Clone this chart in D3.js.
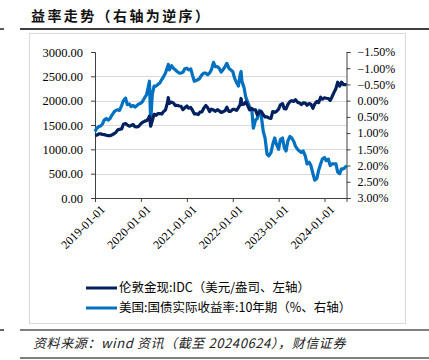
<!DOCTYPE html>
<html>
<head>
<meta charset="utf-8">
<script src="https://cdn.jsdelivr.net/npm/d3@7"></script>
<style>
body { margin: 0; background: #fff; }
svg { display: block; }
</style>
</head>
<body>
<svg id="svg"></svg>
<script>
// data, roughly semi-monthly
var dates = [
 "2019-01-01","2019-01-15","2019-02-01","2019-02-15","2019-03-01","2019-03-15","2019-04-01","2019-04-15",
 "2019-05-01","2019-05-15","2019-06-01","2019-06-15","2019-07-01","2019-07-15","2019-08-01","2019-08-15",
 "2019-09-01","2019-09-15","2019-10-01","2019-10-15","2019-11-01","2019-11-15","2019-12-01","2019-12-15",
 "2020-01-01","2020-01-15","2020-02-01","2020-02-15","2020-03-01","2020-03-09","2020-03-19","2020-04-01",
 "2020-04-15","2020-05-01","2020-05-15","2020-06-01","2020-06-15","2020-07-01","2020-07-15","2020-08-01",
 "2020-08-06","2020-08-15","2020-09-01","2020-09-15","2020-10-01","2020-10-15","2020-11-01","2020-11-15",
 "2020-12-01","2020-12-15","2021-01-01","2021-01-15","2021-02-01","2021-02-15","2021-03-01","2021-03-15",
 "2021-04-01","2021-04-15","2021-05-01","2021-05-15","2021-06-01","2021-06-15","2021-07-01","2021-07-15",
 "2021-08-01","2021-08-15","2021-09-01","2021-09-15","2021-10-01","2021-10-15","2021-11-01","2021-11-15",
 "2021-12-01","2021-12-15","2022-01-01","2022-01-15","2022-02-01","2022-02-15","2022-03-01","2022-03-08",
 "2022-03-15","2022-04-01","2022-04-15","2022-05-01","2022-05-15","2022-06-01","2022-06-14","2022-07-01",
 "2022-07-15","2022-08-01","2022-08-15","2022-09-01","2022-09-15","2022-10-01","2022-10-15","2022-11-01",
 "2022-11-15","2022-12-01","2022-12-15","2023-01-01","2023-01-15","2023-02-01","2023-02-15","2023-03-01",
 "2023-03-15","2023-04-01","2023-04-15","2023-05-01","2023-05-15","2023-06-01","2023-06-15","2023-07-01",
 "2023-07-15","2023-08-01","2023-08-15","2023-09-01","2023-09-15","2023-10-01","2023-10-15","2023-11-01",
 "2023-11-15","2023-12-01","2023-12-15","2024-01-01","2024-01-15","2024-02-01","2024-02-15","2024-03-01",
 "2024-03-15","2024-04-01","2024-04-15","2024-05-01","2024-05-15","2024-06-01","2024-06-15","2024-06-24"
];

// 伦敦金现 (USD/oz), left axis
var gold = [
 1285,1290,1318,1320,1305,1302,1290,1280, 1280,1295,1320,1345,1400,1410,1420,1515,
 1530,1500,1475,1490,1510,1465,1460,1475, 1525,1555,1580,1590,1635,1680,1475,1590,
 1720,1700,1735,1735,1725,1780,1810,1975, 2065,1945,1970,1955,1900,1905,1890,1885,
 1815,1855,1890,1845,1860,1800,1730,1730, 1715,1765,1770,1845,1900,1860,1775,1825,
 1810,1780,1815,1790,1760,1770,1795,1865, 1780,1780,1820,1820,1800,1855,1920,2045,
 1920,1930,1975,1895,1810,1840,1815,1810, 1710,1765,1780,1710,1665,1670,1645,1635,
 1775,1760,1780,1825,1915,1940,1835,1830, 1920,1980,2000,1985,2020,1965,1955,1920,
 1955,1950,1905,1940,1925,1845,1930,1985, 1960,2070,2030,2060,2050,2045,2005,2080,
 2160,2250,2380,2300,2380,2330,2330,2320
];

// 美国 10Y real yield (%), right axis, reversed
var realYield = [
 0.95,0.85,0.80,0.78,0.72,0.60,0.55,0.60, 0.55,0.45,0.35,0.30,0.28,0.30,0.15,0.00,
 -0.08,0.12,0.10,0.18,0.15,0.20,0.15,0.10, 0.08,0.02,-0.10,-0.18,-0.45,-0.60,0.62,-0.20,
 -0.45,-0.45,-0.50,-0.55,-0.65,-0.75,-0.85,-1.05, -1.12,-0.95,-1.08,-1.00,-0.95,-0.90,-0.85,-0.85,
 -0.88,-0.98,-1.00,-0.95,-0.98,-0.78,-0.60,-0.62, -0.65,-0.70,-0.80,-0.85,-0.85,-0.80,-0.85,-0.95,
 -1.18,-1.05,-1.05,-1.00,-0.88,-0.95,-1.05,-1.15, -1.00,-0.95,-0.90,-0.70,-0.55,-0.45,-0.80,-0.90,
 -0.60,-0.40,-0.10,0.05,0.20,0.25,0.85,0.60, 0.55,0.30,0.45,0.95,1.15,1.65,1.70,1.60,
 1.35,1.15,1.35,1.50,1.20,1.15,1.45,1.55, 1.25,1.10,1.15,1.25,1.40,1.50,1.55,1.60,
 1.55,1.70,1.95,1.90,2.00,2.25,2.45,2.40, 2.15,1.95,1.80,1.75,1.85,1.80,2.00,1.95,
 1.95,1.95,2.20,2.25,2.10,2.10,2.05,2.00
];

var goldTicks = [0, 500, 1000, 1500, 2000, 2500, 3000];
var yieldTicks = [-1.5, -1.0, -0.5, 0, 0.5, 1.0, 1.5, 2.0, 2.5, 3.0];
var yearTicks = ["2019-01-01","2020-01-01","2021-01-01","2022-01-01","2023-01-01","2024-01-01"];

var legendNames = ["伦敦金现:IDC（美元/盎司、左轴）", "美国:国债实际收益率:10年期（%、右轴）"];
var colors = ["#002060", "#0070C0"];

//////////////////////////////////////////////////////////////////////////////

var width = 429, height = 360;
var parse = d3.timeParse("%Y-%m-%d");
var serif = "'Liberation Serif','Times New Roman',serif";
var cjk = "'Noto Sans CJK SC','Noto Sans',sans-serif";

var svg = d3.select("#svg").attr("width", width).attr("height", height);

var x = d3.scaleTime()
        .domain([parse("2019-01-01"), parse("2024-06-24")])
        .range([95, 346.5]);
var yL = d3.scaleLinear().domain([0, 3000]).range([198, 52]);
var yR = d3.scaleLinear().domain([-1.5, 3]).range([52, 198]);

// frame lines, title
svg.append("rect").attr("x", 29.5).attr("y", 33.5).attr("width", 376).attr("height", 290)
    .attr("fill", "none").attr("stroke", "#d9d9d9");
svg.append("line").attr("x1", 20).attr("x2", width).attr("y1", 29).attr("y2", 29)
    .attr("stroke", "#000").attr("stroke-width", 1.3);
svg.append("line").attr("x1", 0).attr("x2", 4).attr("y1", 29).attr("y2", 29)
    .attr("stroke", "#000").attr("stroke-width", 1.3);
svg.append("text").attr("x", 31).attr("y", 21)
    .attr("font-family", cjk).attr("font-weight", "bold").attr("font-size", 14)
    .attr("letter-spacing", 2.4).attr("fill", "#111")
    .text("益率走势（右轴为逆序）");

// grid
svg.append("g").selectAll("line").data(goldTicks.slice(1, -1)).enter().append("line")
    .attr("x1", 95).attr("x2", 346.5)
    .attr("y1", function(d) { return Math.round(yL(d)) + 0.5; })
    .attr("y2", function(d) { return Math.round(yL(d)) + 0.5; })
    .attr("stroke", "#d9d9d9");

// axes
var axL = svg.append("g").attr("transform", "translate(95,0)")
    .call(d3.axisLeft(yL).tickValues(goldTicks).tickFormat(d3.format(".2f")).tickSize(4).tickPadding(8));
var axR = svg.append("g").attr("transform", "translate(346.5,0)")
    .call(d3.axisRight(yR).tickValues(yieldTicks).tickFormat(function(d) { return d3.format(".2f")(d) + "%"; })
        .tickSize(4).tickPadding(7));
var axB = svg.append("g").attr("transform", "translate(0,198)")
    .call(d3.axisBottom(x).tickValues(yearTicks.map(parse)).tickFormat(d3.timeFormat("%Y-%m-%d")).tickSize(4));

[axL, axR, axB].forEach(function(ax) {
    ax.selectAll("path, line").attr("stroke", "#404040");
    ax.selectAll("text").attr("font-family", serif).attr("fill", "#000");
});
axL.selectAll("text").attr("font-size", 12.5);
axR.selectAll("text").attr("font-size", 12);
axB.selectAll("text").attr("font-size", 12)
    .attr("text-anchor", "end")
    .attr("transform", "translate(3,5) rotate(-45)")
    .attr("dy", "0.35em").attr("y", 6);

// series
var pts = dates.map(function(d, i) { return { date: parse(d), g: gold[i], r: realYield[i] }; });

svg.append("path").datum(pts)
    .attr("fill", "none").attr("stroke", colors[1]).attr("stroke-width", 3.2).attr("stroke-linejoin", "round")
    .attr("d", d3.line().x(function(d) { return x(d.date); }).y(function(d) { return yR(d.r); }));
svg.append("path").datum(pts)
    .attr("fill", "none").attr("stroke", colors[0]).attr("stroke-width", 3.2).attr("stroke-linejoin", "round")
    .attr("d", d3.line().x(function(d) { return x(d.date); }).y(function(d) { return yL(d.g); }));

// legend
var lg = svg.append("g").selectAll("g").data(legendNames).enter().append("g")
    .attr("transform", function(d, i) { return "translate(86," + (288 + i * 20) + ")"; });
lg.append("line").attr("x1", 0).attr("x2", 31)
    .attr("stroke", function(d, i) { return colors[i]; }).attr("stroke-width", 3);
lg.append("text").attr("x", 33).attr("dy", "0.35em")
    .attr("font-family", cjk).attr("font-size", 12.5).attr("fill", "#000")
    .text(function(d) { return d; });

// source
svg.append("line").attr("x1", 20).attr("x2", width).attr("y1", 330).attr("y2", 330)
    .attr("stroke", "#000").attr("stroke-width", 1.2);
svg.append("line").attr("x1", 0).attr("x2", 4).attr("y1", 330).attr("y2", 330)
    .attr("stroke", "#000").attr("stroke-width", 1.2);
svg.append("line").attr("x1", 20).attr("x2", width).attr("y1", 358).attr("y2", 358)
    .attr("stroke", "#000").attr("stroke-width", 1.2);
svg.append("text").attr("x", 33).attr("y", 348)
    .attr("font-family", cjk).attr("font-style", "italic").attr("font-size", 13)
    .attr("letter-spacing", 0.6).attr("fill", "#222")
    .text("资料来源：wind 资讯（截至 20240624），财信证券");
</script>
</body>
</html>
